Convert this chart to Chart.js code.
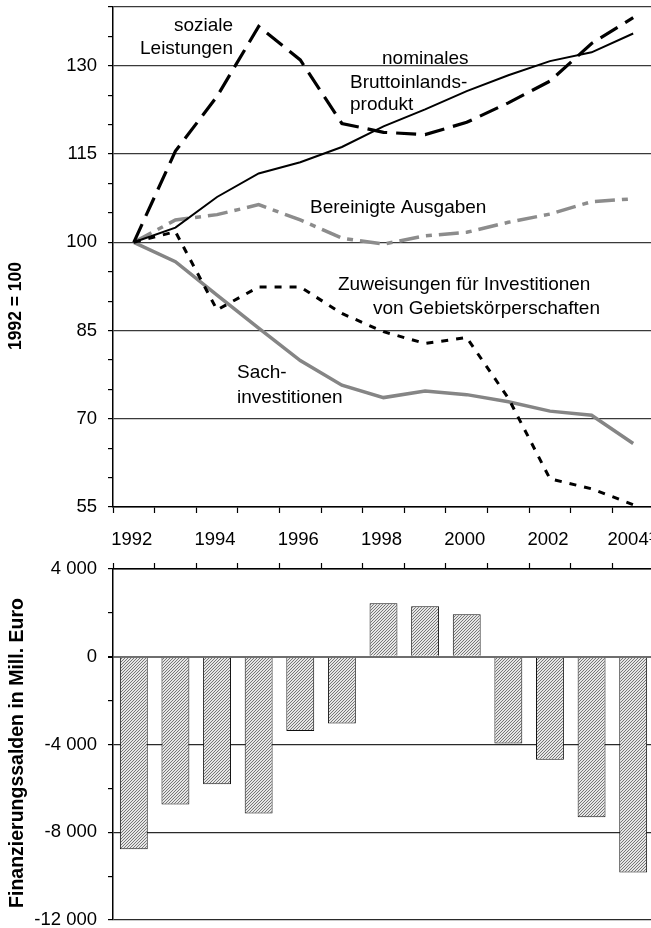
<!DOCTYPE html>
<html>
<head>
<meta charset="utf-8">
<script src="https://cdn.jsdelivr.net/npm/chart.js@4.4.1/dist/chart.umd.min.js"></script>
<style>
  html, body { margin: 0; padding: 0; background: #fff; overflow: hidden; }
  #wrap { width: 654px; }
  canvas { display: block; }
</style>
</head>
<body>
<div id="wrap">
  <canvas id="indexChart" width="654" height="555"></canvas>
  <canvas id="saldoChart" width="654" height="373"></canvas>
</div>
<script>
// categories and tick labels
var years = ['1992','1993','1994','1995','1996','1997','1998','1999','2000','2001','2002','2003','2004'];
var yearTickLabels = ['1992','','1994','','1996','','1998','','2000','','2002','','2004\u00b9'];
var indexTickLabels = [55, 70, 85, 100, 115, 130];
var saldoTickLabels = [4000, 0, -4000, -8000, -12000];

// index series, 1992 = 100
var sozialeLeistungen = [100, 115.5, 124.8, 136.7, 131, 120.2, 118.7, 118.3, 120.4, 123.7, 127.4, 133.8, 138.2];
var nominalesBip = [100, 102.5, 107.7, 111.7, 113.6, 116.2, 119.7, 122.6, 125.7, 128.4, 130.8, 132.3, 135.5];
var bereinigteAusgaben = [100, 103.8, 104.7, 106.4, 103.8, 100.7, 99.7, 101.1, 101.7, 103.4, 104.8, 106.9, 107.4];
var zuweisungen = [100, 101.8, 88.5, 92.4, 92.4, 87.9, 84.8, 82.8, 83.8, 73.5, 59.8, 58.1, 55.4];
var sachinvestitionen = [100, 96.7, 91, 85.4, 79.9, 75.7, 73.6, 74.7, 74.1, 72.9, 71.3, 70.6, 65.8];

// Finanzierungssalden in Mill. Euro
var finanzierungssalden = [-8770, -6740, -5810, -7150, -3390, -3040, 2440, 2300, 1940, -3950, -4690, -7320, -9830];

var fontFamily = '"Liberation Sans", Arial, sans-serif';

// text labels drawn onto the line chart (x, baseline y, align)
var seriesLabels = [
    ['soziale', 174, 31, 'left'],
    ['Leistungen', 140, 53.5, 'left'],
    ['nominales', 382, 64, 'left'],
    ['Bruttoinlands-', 350, 87.5, 'left'],
    ['produkt', 350, 109.5, 'left'],
    ['Bereinigte Ausgaben', 310, 212.5, 'left'],
    ['Zuweisungen f\u00fcr Investitionen', 338, 289.5, 'left'],
    ['von Gebietsk\u00f6rperschaften', 600, 313.5, 'right'],
    ['Sach-', 237, 377.5, 'left'],
    ['investitionen', 237, 402.5, 'left']
];

var textPlugin = {
    id: 'textPlugin',
    afterDraw: function(chart, args, opts) {
        var ctx = chart.ctx;
        ctx.save();
        ctx.fillStyle = '#000';
        (opts.labels || []).forEach(function(l) {
            ctx.font = '19px ' + fontFamily;
            ctx.textAlign = l[3];
            ctx.textBaseline = 'alphabetic';
            ctx.fillText(l[0], l[1], l[2]);
        });
        if (opts.title) {
            ctx.translate(opts.title.x, opts.title.y);
            ctx.rotate(-Math.PI / 2);
            ctx.font = 'bold ' + opts.title.size + 'px ' + fontFamily;
            ctx.textAlign = 'center';
            ctx.textBaseline = 'middle';
            ctx.fillText(opts.title.text, 0, 0);
        }
        ctx.restore();
    }
};

function thousands(v) {
    var s = Math.abs(v).toString().replace(/\B(?=(\d{3})+(?!\d))/g, ' ');
    return (v < 0 ? '-' : '') + s;
}

// diagonal hatching used for the bars
function hatchPattern() {
    var c = document.createElement('canvas');
    c.width = 3; c.height = 3;
    var g = c.getContext('2d');
    g.fillStyle = '#e6e6e6';
    g.fillRect(0, 0, 3, 3);
    g.strokeStyle = '#6a6a6a';
    g.lineWidth = 0.9;
    g.beginPath();
    g.moveTo(0, 3); g.lineTo(3, 0);
    g.moveTo(-1, 1); g.lineTo(1, -1);
    g.moveTo(2, 4); g.lineTo(4, 2);
    g.stroke();
    return g.createPattern(c, 'repeat');
}

function lineSet(label, data, color, width, dash) {
    return {
        label: label,
        data: data,
        borderColor: color,
        borderWidth: width,
        borderDash: dash,
        pointRadius: 0,
        tension: 0,
        fill: false
    };
}

function noPadX(scale, h) {
    scale.height = h;
    scale.paddingLeft = 0;
    scale.paddingRight = 0;
}

function noPadY(scale) {
    scale.width = 113;
    scale.paddingTop = 0;
    scale.paddingBottom = 0;
}

new Chart(document.getElementById('indexChart').getContext('2d'), {
    type: 'line',
    data: {
        labels: years,
        datasets: [
            lineSet('soziale Leistungen', sozialeLeistungen, '#000', 3.2, [20, 9]),
            lineSet('nominales Bruttoinlandsprodukt', nominalesBip, '#000', 2, []),
            lineSet('Zuweisungen f\u00fcr Investitionen', zuweisungen, '#000', 3, [7, 8]),
            lineSet('Bereinigte Ausgaben', bereinigteAusgaben, '#8c8c8c', 3.5, [20, 7, 6, 7]),
            lineSet('Sachinvestitionen', sachinvestitionen, '#858585', 3.5, [])
        ]
    },
    options: {
        responsive: false,
        animation: false,
        layout: { padding: { top: 7, right: 0, left: 0, bottom: 0 } },
        plugins: {
            legend: { display: false },
            tooltip: { enabled: false },
            textPlugin: {
                labels: seriesLabels,
                title: { text: '1992 = 100', x: 16.5, y: 306, size: 17.5 }
            }
        },
        scales: {
            x: {
                offset: true,
                grid: {
                    offset: true,
                    drawOnChartArea: false,
                    drawTicks: true,
                    tickLength: 6,
                    tickColor: '#000',
                    tickWidth: 1.2
                },
                border: { color: '#000', width: 1.5 },
                ticks: {
                    autoSkip: false,
                    maxRotation: 0,
                    padding: 16,
                    labelOffset: -2,
                    color: '#000',
                    font: { family: fontFamily, size: 18.5 },
                    callback: function(value, index) { return yearTickLabels[index]; }
                },
                afterFit: function(scale) { noPadX(scale, 48); }
            },
            y: {
                min: 55,
                max: 140,
                ticks: {
                    stepSize: 5,
                    autoSkip: false,
                    padding: 11,
                    color: '#000',
                    font: { family: fontFamily, size: 18.5 },
                    callback: function(value) {
                        return indexTickLabels.indexOf(value) >= 0 ? String(value) : '';
                    }
                },
                grid: {
                    tickLength: 5,
                    tickColor: '#000',
                    color: function(ctx) {
                        var v = ctx.tick && ctx.tick.value;
                        return (indexTickLabels.indexOf(v) >= 0 || v === 140) ? '#3a3a3a' : 'rgba(0,0,0,0)';
                    },
                    lineWidth: 1.2
                },
                border: { color: '#000', width: 1.5 },
                afterFit: noPadY
            }
        }
    },
    plugins: [textPlugin]
});

new Chart(document.getElementById('saldoChart').getContext('2d'), {
    type: 'bar',
    data: {
        labels: years,
        datasets: [{
            label: 'Finanzierungssalden',
            data: finanzierungssalden,
            backgroundColor: hatchPattern(),
            borderColor: '#111',
            borderWidth: 1,
            barPercentage: 0.67,
            categoryPercentage: 1
        }]
    },
    options: {
        responsive: false,
        animation: false,
        layout: { padding: { top: 0, right: 0, left: 0, bottom: 8 } },
        plugins: {
            legend: { display: false },
            tooltip: { enabled: false },
            textPlugin: {
                title: { text: 'Finanzierungssalden in Mill. Euro', x: 17.5, y: 198, size: 19.5 }
            }
        },
        scales: {
            x: {
                position: 'top',
                offset: true,
                grid: {
                    offset: true,
                    drawOnChartArea: false,
                    drawTicks: true,
                    tickLength: 6,
                    tickColor: '#000',
                    tickWidth: 1.2
                },
                border: { color: '#000', width: 1.5 },
                ticks: { display: false },
                afterFit: function(scale) { noPadX(scale, 14); }
            },
            y: {
                min: -12000,
                max: 4000,
                ticks: {
                    stepSize: 2000,
                    autoSkip: false,
                    padding: 11,
                    color: '#000',
                    font: { family: fontFamily, size: 18.5 },
                    callback: function(value) {
                        return saldoTickLabels.indexOf(value) >= 0 ? thousands(value) : '';
                    }
                },
                grid: {
                    tickLength: 5,
                    tickColor: '#000',
                    color: function(ctx) {
                        var v = ctx.tick && ctx.tick.value;
                        if (v === 0) return '#6e6e6e';
                        return saldoTickLabels.indexOf(v) >= 0 ? '#2a2a2a' : 'rgba(0,0,0,0)';
                    },
                    lineWidth: function(ctx) {
                        return (ctx.tick && ctx.tick.value === 0) ? 2 : 1.2;
                    }
                },
                border: { color: '#000', width: 1.5 },
                afterFit: noPadY
            }
        }
    },
    plugins: [textPlugin]
});
</script>
</body>
</html>
